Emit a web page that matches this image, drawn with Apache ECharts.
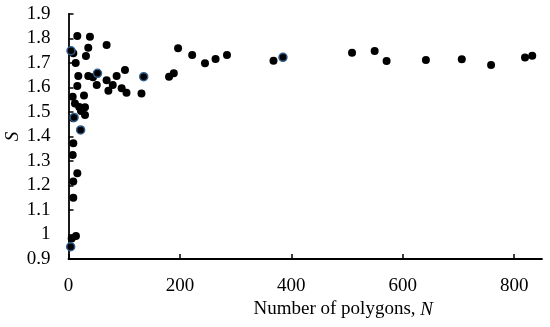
<!DOCTYPE html>
<html>
<head>
<meta charset="utf-8">
<script src="https://cdn.jsdelivr.net/npm/echarts@6/dist/echarts.min.js"></script>
<style>html,body{margin:0;padding:0;background:#fff}#c{width:550px;height:327px}</style>
</head>
<body>
<div id="c"></div>
<script>
// Black points: [N, S]
const blackPoints = [
  [15.8, 1.81], [38.5, 1.807], [68.4, 1.773], [35.5, 1.762], [8.6, 1.74],
  [31.3, 1.729], [12.9, 1.70], [17.6, 1.647], [35.5, 1.647], [43.9, 1.642],
  [68.4, 1.63], [86.4, 1.647], [101.4, 1.671], [50.7, 1.61], [71.6, 1.587],
  [79.4, 1.61], [95.4, 1.597], [104.1, 1.579], [131, 1.576], [15.8, 1.606],
  [7.5, 1.562], [27.8, 1.567], [11.6, 1.535], [19.3, 1.52], [29.6, 1.519],
  [22.4, 1.504], [29.6, 1.488], [8.6, 1.474], [8.6, 1.372], [7.5, 1.324],
  [15.8, 1.25], [8.6, 1.216], [8.6, 1.15], [13.4, 0.994], [5.7, 0.984],
  [180.5, 1.644], [189, 1.658], [196.7, 1.76], [222, 1.733], [245, 1.699],
  [264, 1.716], [284.5, 1.733], [368, 1.709], [509, 1.742], [549.6, 1.749],
  [571, 1.708], [641.6, 1.712], [706, 1.715], [758.6, 1.692], [819.5, 1.722],
  [832.5, 1.73]
];
// Points drawn with a blue outline
const bluePoints = [
  [4.5, 1.75], [52, 1.658], [135, 1.644], [385, 1.723], [10, 1.478],
  [21.8, 1.427], [3.9, 0.95]
];
const xTicks = [0, 200, 400, 600, 800];
const yMin = 0.9, yMax = 1.9, yStep = 0.1;

const font = 'Liberation Serif, Times New Roman, serif';
const fs = 19;
const chart = echarts.init(document.getElementById('c'), null, {renderer: 'canvas'});
chart.setOption({
  animation: false,
  grid: {left: 68.5, right: 8, top: 14, bottom: 68, containLabel: false, outerBoundsMode: 'none'},
  xAxis: {
    type: 'value', min: 0, max: 850, interval: 200,
    splitLine: {show: false},
    axisLine: {lineStyle: {color: '#000', width: 1.8}},
    axisTick: {inside: true, length: 5, lineStyle: {color: '#000', width: 1.5}, customValues: xTicks},
    axisLabel: {color: '#000', fontFamily: font, fontSize: fs, margin: 18, customValues: xTicks},
    name: 'Number of polygons, {i|N}',
    nameLocation: 'middle', nameGap: 41, nameMoveOverlap: false,
    nameTextStyle: {color: '#000', fontFamily: font, fontSize: fs, padding: [0, 0, 0, 76],
      rich: {i: {fontStyle: 'italic', fontFamily: font, fontSize: fs, color: '#000'}}}
  },
  yAxis: {
    type: 'value', min: yMin, max: yMax, interval: yStep,
    splitLine: {show: false},
    axisLine: {show: true, lineStyle: {color: '#000', width: 1.8}},
    axisTick: {show: true, inside: true, length: 5, lineStyle: {color: '#000', width: 1.5}},
    axisLabel: {color: '#000', fontFamily: font, fontSize: fs, margin: 18},
    name: 'S', nameLocation: 'middle', nameGap: 46, nameMoveOverlap: false,
    nameTextStyle: {color: '#000', fontFamily: font, fontSize: fs, fontStyle: 'italic'}
  },
  series: [
    {type: 'scatter', data: blackPoints, symbolSize: 8, itemStyle: {color: '#000', opacity: 1}},
    {type: 'scatter', data: bluePoints, symbolSize: 8, itemStyle: {color: '#000', borderColor: '#2f5d8e', borderWidth: 1.5, opacity: 1}}
  ]
});
</script>
</body>
</html>
